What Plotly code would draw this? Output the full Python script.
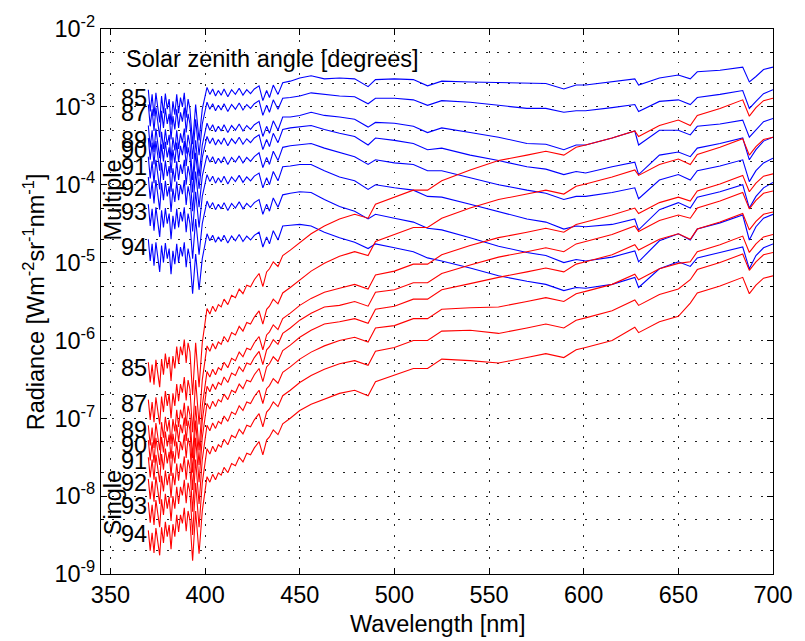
import numpy as np
import plotly.graph_objects as go

# ---------------- data (log10 of radiance) ----------------
wavelength = [370, 371, 372, 373, 374, 375, 376, 377, 378, 379, 380, 381, 382, 383, 384, 385, 386, 387, 388, 389, 390, 391, 392,
              393.4, 395, 396.8, 398.5,
              401, 402.5, 404, 405.5, 407, 408.5, 410, 412, 414, 416, 418, 420, 422, 424, 426,
              428.5, 430.5, 432.5, 434, 436, 438.5, 441, 445,
              450, 456, 463, 471, 479, 486.1, 490, 500, 510, 517.5, 525, 540, 555, 570, 580, 589.5,
              596, 601, 615, 627, 629, 640, 650, 656.3, 660, 672, 684, 687.5, 691, 695, 700]

sza = [85, 87, 89, 90, 91, 92, 93, 94]

multiple_85 = [-2.78, -3.06, -2.84, -3.12, -2.82, -3.00, -3.20, -2.86, -3.08, -2.83, -3.03, -2.90, -3.23, -2.93, -3.10, -2.84, -3.08, -2.88, -3.00, -2.82, -3.14, -2.90, -3.03,
               -3.48, -2.97, -3.43, -3.03,
               -2.75, -2.84, -2.77, -2.86, -2.79, -2.85, -2.77, -2.87, -2.78, -2.84, -2.76, -2.85, -2.78, -2.83, -2.77,
               -2.73, -2.92, -2.79, -2.88, -2.72, -2.84, -2.69, -2.67,
               -2.63, -2.60, -2.64, -2.63, -2.64, -2.74, -2.65, -2.64, -2.65, -2.73, -2.67, -2.68, -2.69, -2.70, -2.70, -2.77,
               -2.72, -2.72, -2.68, -2.64, -2.72, -2.63, -2.59, -2.64, -2.55, -2.53, -2.49, -2.68, -2.61, -2.52, -2.49]
multiple_87 = [-2.97, -3.25, -3.03, -3.31, -3.01, -3.19, -3.39, -3.05, -3.27, -3.02, -3.22, -3.09, -3.42, -3.12, -3.29, -3.03, -3.27, -3.07, -3.19, -3.01, -3.33, -3.09, -3.22,
               -3.67, -3.16, -3.62, -3.22,
               -2.94, -3.03, -2.96, -3.05, -2.98, -3.04, -2.96, -3.06, -2.97, -3.03, -2.95, -3.04, -2.97, -3.02, -2.96,
               -2.92, -3.11, -2.98, -3.07, -2.91, -3.03, -2.89, -2.88,
               -2.86, -2.82, -2.84, -2.86, -2.87, -2.96, -2.89, -2.89, -2.91, -2.98, -2.92, -2.94, -2.98, -3.02, -3.02, -3.07,
               -3.05, -3.05, -3.01, -2.97, -3.06, -2.93, -2.91, -2.97, -2.88, -2.84, -2.79, -3.02, -2.93, -2.83, -2.78]
multiple_89 = [-3.24, -3.52, -3.30, -3.58, -3.28, -3.46, -3.66, -3.32, -3.54, -3.29, -3.49, -3.36, -3.69, -3.39, -3.56, -3.30, -3.54, -3.34, -3.46, -3.28, -3.60, -3.36, -3.49,
               -3.94, -3.43, -3.89, -3.49,
               -3.21, -3.30, -3.23, -3.32, -3.25, -3.31, -3.23, -3.33, -3.24, -3.30, -3.22, -3.31, -3.24, -3.29, -3.23,
               -3.19, -3.38, -3.25, -3.34, -3.18, -3.30, -3.13, -3.13,
               -3.11, -3.07, -3.11, -3.13, -3.16, -3.26, -3.20, -3.21, -3.25, -3.33, -3.27, -3.33, -3.39, -3.47, -3.48, -3.55,
               -3.49, -3.49, -3.40, -3.31, -3.49, -3.30, -3.30, -3.36, -3.25, -3.22, -3.17, -3.39, -3.29, -3.19, -3.15]
multiple_90 = [-3.40, -3.68, -3.46, -3.74, -3.44, -3.62, -3.82, -3.48, -3.70, -3.45, -3.65, -3.52, -3.85, -3.55, -3.72, -3.46, -3.70, -3.50, -3.62, -3.44, -3.76, -3.52, -3.65,
               -4.10, -3.59, -4.05, -3.65,
               -3.38, -3.47, -3.40, -3.49, -3.42, -3.48, -3.40, -3.50, -3.41, -3.47, -3.39, -3.48, -3.41, -3.46, -3.40,
               -3.36, -3.55, -3.42, -3.51, -3.34, -3.46, -3.29, -3.27,
               -3.26, -3.24, -3.29, -3.34, -3.38, -3.49, -3.40, -3.43, -3.47, -3.55, -3.53, -3.62, -3.69, -3.77, -3.80, -3.87,
               -3.83, -3.85, -3.77, -3.71, -3.87, -3.62, -3.58, -3.64, -3.53, -3.47, -3.40, -3.68, -3.55, -3.44, -3.39]
multiple_91 = [-3.64, -3.92, -3.70, -3.98, -3.68, -3.86, -4.06, -3.72, -3.94, -3.69, -3.89, -3.76, -4.09, -3.79, -3.96, -3.70, -3.94, -3.74, -3.86, -3.68, -4.00, -3.76, -3.89,
               -4.34, -3.83, -4.29, -3.89,
               -3.62, -3.71, -3.64, -3.73, -3.66, -3.72, -3.64, -3.74, -3.65, -3.71, -3.63, -3.72, -3.65, -3.70, -3.64,
               -3.59, -3.78, -3.65, -3.74, -3.57, -3.69, -3.52, -3.50,
               -3.49, -3.47, -3.53, -3.59, -3.64, -3.74, -3.68, -3.72, -3.74, -3.82, -3.82, -3.91, -4.00, -4.07, -4.11, -4.19,
               -4.15, -4.15, -4.10, -4.04, -4.18, -3.94, -3.87, -3.94, -3.82, -3.76, -3.68, -3.96, -3.82, -3.72, -3.66]
multiple_92 = [-3.90, -4.18, -3.96, -4.24, -3.94, -4.12, -4.32, -3.98, -4.20, -3.95, -4.15, -4.02, -4.35, -4.05, -4.22, -3.96, -4.20, -4.00, -4.12, -3.94, -4.26, -4.02, -4.15,
               -4.60, -4.09, -4.55, -4.15,
               -3.87, -3.96, -3.89, -3.98, -3.91, -3.97, -3.89, -3.99, -3.90, -3.96, -3.88, -3.97, -3.90, -3.95, -3.89,
               -3.85, -4.04, -3.91, -4.00, -3.83, -3.95, -3.77, -3.76,
               -3.74, -3.74, -3.82, -3.90, -3.95, -4.06, -4.00, -4.04, -4.07, -4.15, -4.16, -4.25, -4.35, -4.44, -4.48, -4.57,
               -4.53, -4.54, -4.51, -4.44, -4.58, -4.32, -4.23, -4.30, -4.16, -4.09, -4.00, -4.30, -4.15, -4.04, -3.97]
multiple_93 = [-4.25, -4.53, -4.31, -4.59, -4.29, -4.47, -4.67, -4.33, -4.55, -4.30, -4.50, -4.37, -4.70, -4.40, -4.57, -4.31, -4.55, -4.35, -4.47, -4.29, -4.61, -4.37, -4.50,
               -4.95, -4.44, -4.90, -4.50,
               -4.21, -4.30, -4.23, -4.32, -4.25, -4.31, -4.23, -4.33, -4.24, -4.30, -4.22, -4.31, -4.24, -4.29, -4.23,
               -4.19, -4.38, -4.25, -4.34, -4.17, -4.29, -4.13, -4.11,
               -4.09, -4.10, -4.19, -4.28, -4.34, -4.44, -4.38, -4.43, -4.48, -4.56, -4.58, -4.68, -4.79, -4.87, -4.91, -5.00,
               -4.96, -4.98, -4.93, -4.85, -4.99, -4.72, -4.63, -4.71, -4.57, -4.49, -4.39, -4.71, -4.54, -4.43, -4.38]
multiple_94 = [-4.70, -4.98, -4.76, -5.04, -4.74, -4.92, -5.12, -4.78, -5.00, -4.75, -4.95, -4.82, -5.15, -4.85, -5.02, -4.76, -5.00, -4.80, -4.92, -4.74, -5.06, -4.82, -4.95,
               -5.40, -4.89, -5.35, -4.95,
               -4.63, -4.72, -4.65, -4.74, -4.67, -4.73, -4.65, -4.75, -4.66, -4.72, -4.64, -4.73, -4.66, -4.71, -4.65,
               -4.61, -4.80, -4.67, -4.76, -4.59, -4.71, -4.53, -4.52,
               -4.51, -4.53, -4.61, -4.68, -4.74, -4.82, -4.76, -4.81, -4.86, -4.94, -4.98, -5.07, -5.17, -5.24, -5.28, -5.36,
               -5.32, -5.33, -5.28, -5.19, -5.32, -5.08, -4.99, -5.05, -4.94, -4.87, -4.80, -5.08, -4.91, -4.81, -4.76]

single_85 = [-6.28, -6.54, -6.31, -6.57, -6.25, -6.41, -6.60, -6.24, -6.44, -6.17, -6.36, -6.21, -6.52, -6.20, -6.36, -6.08, -6.30, -6.08, -6.19, -5.99, -6.29, -6.03, -6.15,
             -6.70, -6.03, -6.60, -6.03,
             -5.59, -5.66, -5.56, -5.63, -5.54, -5.57, -5.47, -5.54, -5.42, -5.45, -5.34, -5.40, -5.29, -5.31, -5.22,
             -5.14, -5.31, -5.12, -5.08, -4.99, -5.05, -4.91, -4.84,
             -4.74, -4.63, -4.53, -4.44, -4.38, -4.43, -4.25, -4.16, -4.07, -4.07, -3.95, -3.81, -3.69, -3.62, -3.57, -3.62,
             -3.52, -3.49, -3.40, -3.31, -3.38, -3.24, -3.17, -3.24, -3.11, -3.02, -2.91, -3.12, -3.01, -2.92, -2.89]
single_87 = [-6.76, -7.02, -6.79, -7.05, -6.73, -6.89, -7.08, -6.72, -6.92, -6.65, -6.84, -6.69, -7.00, -6.68, -6.84, -6.56, -6.78, -6.56, -6.67, -6.47, -6.77, -6.51, -6.63,
             -7.18, -6.51, -7.08, -6.51,
             -6.07, -6.14, -6.04, -6.11, -6.02, -6.05, -5.95, -6.02, -5.90, -5.93, -5.82, -5.88, -5.77, -5.79, -5.70,
             -5.62, -5.79, -5.60, -5.56, -5.47, -5.53, -5.39, -5.32,
             -5.22, -5.11, -5.01, -4.92, -4.86, -4.91, -4.73, -4.64, -4.55, -4.55, -4.43, -4.30, -4.19, -4.12, -4.07, -4.12,
             -4.02, -3.99, -3.90, -3.81, -3.88, -3.74, -3.67, -3.74, -3.61, -3.52, -3.41, -3.62, -3.51, -3.42, -3.39]
single_89 = [-7.09, -7.35, -7.12, -7.38, -7.06, -7.22, -7.41, -7.05, -7.25, -6.98, -7.17, -7.02, -7.33, -7.01, -7.17, -6.89, -7.11, -6.89, -7.00, -6.80, -7.10, -6.84, -6.96,
             -7.51, -6.84, -7.41, -6.84,
             -6.40, -6.47, -6.37, -6.44, -6.35, -6.38, -6.28, -6.35, -6.23, -6.26, -6.15, -6.21, -6.10, -6.12, -6.03,
             -5.95, -6.12, -5.93, -5.89, -5.80, -5.86, -5.72, -5.65,
             -5.55, -5.46, -5.38, -5.33, -5.28, -5.34, -5.16, -5.11, -5.02, -5.02, -4.90, -4.78, -4.68, -4.61, -4.56, -4.61,
             -4.51, -4.48, -4.39, -4.30, -4.37, -4.23, -4.16, -4.21, -4.08, -3.99, -3.88, -4.09, -3.98, -3.89, -3.86]
single_90 = [-7.28, -7.54, -7.31, -7.57, -7.25, -7.41, -7.60, -7.24, -7.44, -7.17, -7.36, -7.21, -7.52, -7.20, -7.36, -7.08, -7.30, -7.08, -7.19, -6.99, -7.29, -7.03, -7.15,
             -7.70, -7.03, -7.60, -7.03,
             -6.59, -6.66, -6.56, -6.63, -6.54, -6.57, -6.47, -6.54, -6.42, -6.45, -6.34, -6.40, -6.29, -6.31, -6.22,
             -6.14, -6.31, -6.12, -6.08, -5.99, -6.05, -5.91, -5.84,
             -5.74, -5.65, -5.57, -5.55, -5.50, -5.56, -5.38, -5.35, -5.26, -5.26, -5.14, -5.03, -4.93, -4.86, -4.81, -4.86,
             -4.76, -4.73, -4.64, -4.53, -4.60, -4.46, -4.39, -4.43, -4.30, -4.21, -4.10, -4.31, -4.20, -4.11, -4.08]
single_91 = [-7.50, -7.76, -7.53, -7.79, -7.47, -7.63, -7.82, -7.46, -7.66, -7.39, -7.58, -7.43, -7.74, -7.42, -7.58, -7.30, -7.52, -7.30, -7.41, -7.21, -7.51, -7.25, -7.37,
             -7.92, -7.25, -7.82, -7.25,
             -6.81, -6.88, -6.78, -6.85, -6.76, -6.79, -6.69, -6.76, -6.64, -6.67, -6.56, -6.62, -6.51, -6.53, -6.44,
             -6.36, -6.53, -6.34, -6.30, -6.21, -6.27, -6.13, -6.06,
             -5.96, -5.87, -5.79, -5.76, -5.72, -5.78, -5.60, -5.56, -5.47, -5.47, -5.35, -5.27, -5.19, -5.12, -5.07, -5.12,
             -5.02, -4.99, -4.90, -4.77, -4.84, -4.70, -4.63, -4.70, -4.57, -4.48, -4.37, -4.58, -4.47, -4.38, -4.35]
single_92 = [-7.78, -8.04, -7.81, -8.07, -7.75, -7.91, -8.10, -7.74, -7.94, -7.67, -7.86, -7.71, -8.02, -7.70, -7.86, -7.58, -7.80, -7.58, -7.69, -7.49, -7.79, -7.53, -7.65,
             -8.20, -7.53, -8.10, -7.53,
             -7.09, -7.16, -7.06, -7.13, -7.04, -7.07, -6.97, -7.04, -6.92, -6.95, -6.84, -6.90, -6.79, -6.81, -6.72,
             -6.64, -6.81, -6.62, -6.58, -6.49, -6.55, -6.41, -6.34,
             -6.24, -6.15, -6.07, -6.00, -5.96, -6.02, -5.84, -5.81, -5.72, -5.72, -5.60, -5.58, -5.57, -5.50, -5.45, -5.50,
             -5.40, -5.37, -5.28, -5.15, -5.22, -5.08, -5.01, -4.99, -4.86, -4.77, -4.66, -4.87, -4.76, -4.67, -4.64]
single_93 = [-8.08, -8.34, -8.11, -8.37, -8.05, -8.21, -8.40, -8.04, -8.24, -7.97, -8.16, -8.01, -8.32, -8.00, -8.16, -7.88, -8.10, -7.88, -7.99, -7.79, -8.09, -7.83, -7.95,
             -8.50, -7.83, -8.40, -7.83,
             -7.39, -7.46, -7.36, -7.43, -7.34, -7.37, -7.27, -7.34, -7.22, -7.25, -7.14, -7.20, -7.09, -7.11, -7.02,
             -6.94, -7.11, -6.92, -6.88, -6.79, -6.85, -6.71, -6.64,
             -6.54, -6.45, -6.37, -6.30, -6.26, -6.32, -6.14, -6.09, -6.00, -6.00, -5.88, -5.87, -5.91, -5.84, -5.79, -5.84,
             -5.74, -5.71, -5.62, -5.48, -5.55, -5.41, -5.34, -5.22, -5.09, -5.00, -4.89, -5.10, -4.99, -4.90, -4.87]
single_94 = [-8.44, -8.70, -8.47, -8.73, -8.41, -8.57, -8.76, -8.40, -8.60, -8.33, -8.52, -8.37, -8.68, -8.36, -8.52, -8.24, -8.46, -8.24, -8.35, -8.15, -8.45, -8.19, -8.31,
             -8.83, -8.19, -8.74, -8.19,
             -7.75, -7.82, -7.72, -7.79, -7.70, -7.73, -7.63, -7.70, -7.58, -7.61, -7.50, -7.56, -7.45, -7.47, -7.38,
             -7.30, -7.47, -7.28, -7.24, -7.15, -7.21, -7.07, -7.00,
             -6.90, -6.82, -6.75, -6.68, -6.64, -6.71, -6.53, -6.45, -6.36, -6.36, -6.24, -6.26, -6.29, -6.22, -6.17, -6.22,
             -6.12, -6.09, -6.00, -5.83, -5.90, -5.76, -5.69, -5.52, -5.39, -5.30, -5.19, -5.40, -5.29, -5.20, -5.17]

multiple = [multiple_85, multiple_87, multiple_89, multiple_90, multiple_91, multiple_92, multiple_93, multiple_94]
single = [single_85, single_87, single_89, single_90, single_91, single_92, single_93, single_94]

x_ticks = [350, 400, 450, 500, 550, 600, 650, 700]
y_exponents = [-9, -8, -7, -6, -5, -4, -3, -2]

# ---------------- figure ----------------
FONT = "Liberation Sans, Arial, Helvetica, sans-serif"
FS = 23.5
fig = go.Figure()

for vals in multiple:
    fig.add_trace(go.Scatter(x=wavelength, y=np.power(10.0, vals), mode="lines",
                             line=dict(color="#0000ff", width=1.1), showlegend=False))
for vals in single:
    fig.add_trace(go.Scatter(x=wavelength, y=np.power(10.0, vals), mode="lines",
                             line=dict(color="#ff0000", width=1.1), showlegend=False))

# label positions (in log10 units of the y axis)
mult_label_y = [-2.89, -3.08, -3.43, -3.55, -3.77, -4.04, -4.35, -4.80]
single_label_y = [-6.35, -6.82, -7.15, -7.34, -7.55, -7.83, -8.13, -8.48]
ann = []
for s, yl in zip(sza, mult_label_y):
    ann.append(dict(x=0.072, xref="paper", y=yl, yref="y", text=str(s), showarrow=False,
                    xanchor="right", yanchor="middle", font=dict(size=FS, color="black", family=FONT)))
for s, yl in zip(sza, single_label_y):
    ann.append(dict(x=0.072, xref="paper", y=yl, yref="y", text=str(s), showarrow=False,
                    xanchor="right", yanchor="middle", font=dict(size=FS, color="black", family=FONT)))
ann.append(dict(x=0.018, xref="paper", y=-4.20, yref="y", text="Multiple", textangle=-90, showarrow=False,
                xanchor="center", yanchor="middle", font=dict(size=FS, color="black", family=FONT)))
ann.append(dict(x=0.018, xref="paper", y=-8.09, yref="y", text="Single", textangle=-90, showarrow=False,
                xanchor="center", yanchor="middle", font=dict(size=FS, color="black", family=FONT)))
ann.append(dict(x=0.034, xref="paper", y=0.945, yref="paper", text="Solar zenith angle [degrees]",
                showarrow=False, xanchor="left", yanchor="middle", font=dict(size=FS, color="black", family=FONT)))
ann.append(dict(x=0.5, xref="paper", y=-0.091, yref="paper", text="Wavelength [nm]",
                showarrow=False, xanchor="center", yanchor="middle", font=dict(size=FS, color="black", family=FONT)))
ann.append(dict(x=-0.1, xref="paper", y=0.5, yref="paper",
                text="Radiance [Wm<sup>-2</sup>sr<sup>-1</sup>nm<sup>-1</sup>]", textangle=-90,
                showarrow=False, xanchor="center", yanchor="middle", font=dict(size=FS, color="black", family=FONT)))

GRID_DASH = "1.5px,9.5px"
fig.update_layout(
    width=805, height=641,
    margin=dict(l=101, r=23, t=23, b=67),
    paper_bgcolor="white", plot_bgcolor="white",
    font=dict(family=FONT, size=FS, color="black"),
    annotations=ann,
    xaxis=dict(range=[345, 700], tickvals=x_ticks, ticktext=[str(v) for v in x_ticks],
               ticks="inside", ticklen=6, tickcolor="black", showline=True, linecolor="black",
               linewidth=1.3, mirror="ticks", showgrid=True, gridcolor="#222222", gridwidth=1,
               griddash=GRID_DASH, zeroline=False, tickfont=dict(size=FS, family=FONT)),
    yaxis=dict(type="log", range=[-9, -2],
               tickvals=[10.0 ** e for e in y_exponents],
               ticktext=["10<sup>%d</sup>" % e for e in y_exponents],
               ticks="inside", ticklen=6, tickcolor="black", showline=True, linecolor="black",
               linewidth=1.3, mirror="ticks", showgrid=True, gridcolor="#222222", gridwidth=1,
               griddash=GRID_DASH, zeroline=False, tickfont=dict(size=FS, family=FONT),
               minor=dict(ticks="inside", ticklen=3, tickcolor="black", showgrid=True,
                          gridcolor="#222222", griddash=GRID_DASH, gridwidth=1)),
)

fig.write_html("out.html")
